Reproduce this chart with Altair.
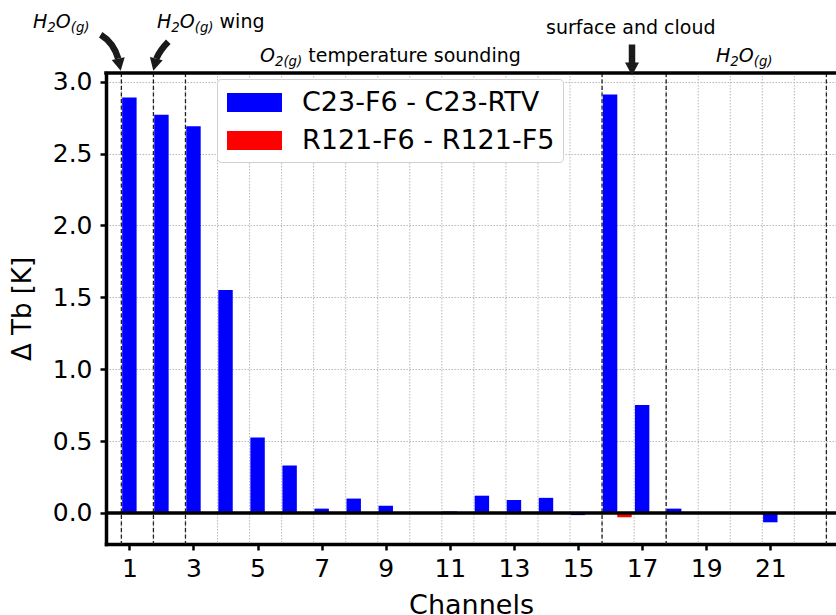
import altair as alt
import pandas as pd

FONT = "DejaVu Sans"

# ---------------- data ----------------
channels = list(range(1, 23))
series_names = ["C23-F6 - C23-RTV", "R121-F6 - R121-F5"]
series_colors = ["#0000ff", "#ff0000"]
c23_diff = [2.89, 2.77, 2.69, 1.55, 0.525, 0.33, 0.03, 0.10, 0.05, 0.0, 0.01,
            0.12, 0.09, 0.105, -0.015, 2.91, 0.75, 0.03, 0.0, 0.0, -0.065, 0.0]
r121_diff = [0.0, 0.005, 0.0, 0.0, 0.0, 0.0, 0.0, 0.0, 0.0, 0.0, 0.0,
             0.0, 0.0, 0.0, 0.0, -0.03, 0.0, 0.0, 0.0, 0.0, 0.0, 0.0]
x_tick_values = channels[::2]
y_tick_values = [0.0, 0.5, 1.0, 1.5, 2.0, 2.5, 3.0]
group_last_channels = [0, 1, 2, 15, 17, 22]   # dashed separators follow these channels
x_label = "Channels"
y_label = "Δ Tb [K]"

# ---------------- tables ----------------
rows = []
for slot, (name, vals) in enumerate(zip(series_names, [c23_diff, r121_diff])):
    for c, v in zip(channels, vals):
        rows.append({"channel": c, "series": name, "value": v, "slot": slot})
bars_df = pd.DataFrame(rows)
grid_df = pd.DataFrame({"pos": [c - 0.25 for c in channels] + [channels[-1] + 0.75]})
sep_df = pd.DataFrame({"pos": [g + 0.75 for g in group_last_channels]})
one = pd.DataFrame({"k": [0]})

W, H = 730, 471
xscale = alt.Scale(domain=[0.27, 23.05], nice=False, zero=False)
yscale = alt.Scale(domain=[-0.216, 3.06], nice=False, zero=False)

xaxis = alt.Axis(values=x_tick_values, format="d", labelFontSize=25, labelFont=FONT,
                 labelColor="black", tickSize=6, tickWidth=2.5, tickColor="black",
                 domainWidth=3.5, domainColor="black", domainCap="square", grid=False,
                 title=x_label, titleFontSize=27, titleFontWeight="normal", titleFont=FONT,
                 titleColor="black", labelPadding=6, titleY=69, titleBaseline="alphabetic",
                 labelFlush=False, labelOverlap=False)
yaxis = alt.Axis(values=y_tick_values, format=".1f", labelFontSize=25, labelFont=FONT,
                 labelColor="black", tickSize=6, tickWidth=2.5, tickColor="black",
                 domainWidth=3.5, domainColor="black", domainCap="square",
                 grid=True, gridDash=[1.5, 1.5], gridColor="#b0b0b0", gridWidth=0.9,
                 title=y_label, titleFontSize=26, titleFontWeight="normal", titleFont=FONT,
                 titleColor="black", titleX=-84, titleY=H / 2, titleAngle=-90,
                 titleBaseline="middle", titleAlign="center", labelPadding=8,
                 labelFlush=False, labelOverlap=False)

grid = alt.Chart(grid_df).mark_rule(strokeDash=[1.5, 1.5], color="#b0b0b0", strokeWidth=0.9).encode(
    x=alt.X("pos:Q", scale=xscale, axis=xaxis))

seps = alt.Chart(sep_df).mark_rule(strokeDash=[4, 2.5], color="#222222", strokeWidth=1.3).encode(
    x=alt.X("pos:Q", scale=xscale, axis=xaxis))

bars = alt.Chart(bars_df).transform_calculate(
    x0="datum.channel - 0.225 + 0.45 * datum.slot",
    x1="datum.channel + 0.225 + 0.45 * datum.slot",
).mark_rect().encode(
    x=alt.X("x0:Q", scale=xscale, axis=xaxis),
    x2="x1:Q",
    y=alt.Y("value:Q", scale=yscale, axis=yaxis),
    y2=alt.datum(0),
    color=alt.Color("series:N", scale=alt.Scale(domain=series_names, range=series_colors),
                    legend=alt.Legend(title=None, orient="none", legendX=111, legendY=6,
                                      symbolType="M-1.833,-0.633H1.833V0.633H-1.833Z",
                                      symbolSize=900, symbolOffset=14,
                                      symbolStrokeWidth=0, symbolOpacity=1,
                                      labelFontSize=27, labelFont=FONT, labelColor="black",
                                      padding=8.5, fillColor="white", strokeColor="#d0d0d0",
                                      cornerRadius=4, labelOffset=32.5, rowPadding=10,
                                      labelLimit=400)),
)

zero_line = alt.Chart(one).mark_rule(color="black", strokeWidth=3.5).encode(
    y=alt.Y(datum=0, scale=yscale, axis=yaxis), x=alt.value(0), x2=alt.value(W))
top_spine = alt.Chart(one).mark_rule(color="black", strokeWidth=3.5, strokeCap="square").encode(
    y=alt.value(0), x=alt.value(0), x2=alt.value(W))

# ---------------- annotations ----------------
CW = {"H": 0.752, "O": 0.787, "2": 0.636, "(": 0.39, ")": 0.39, "g": 0.635, " ": 0.318}
FS, SUB, SUBDY = 19, 13.3, 4


def width(t, size):
    return sum(CW.get(ch, 0.6) for ch in t) * size


def rich(parts, x0, y0):
    layers = []
    x = x0
    for text, sub, italic in parts:
        size = SUB if sub else FS
        lead = len(text) - len(text.lstrip(" "))
        x += lead * CW[" "] * size
        body = text.lstrip(" ")
        layers.append(alt.Chart(one).mark_text(
            text=body, fontSize=size, font=FONT, fontStyle="italic" if italic else "normal",
            align="left", baseline="alphabetic", color="black").encode(
            x=alt.value(x), y=alt.value(y0 + (SUBDY if sub else 0))))
        x += width(body, size)
    return layers


h2o = [("H", False, True), ("2", True, True), ("O", False, True), ("(g)", True, True)]
ann = []
ann += rich(h2o, -73, -45)
ann += rich(h2o + [(" wing", False, False)], 51, -45)
ann += rich([("O", False, True), ("2(g)", True, True), (" temperature sounding", False, False)], 154, -11)
ann += rich([("surface and cloud", False, False)], 440, -39.5)
ann += rich(h2o, 610, -11)


def arrow(tip_x, tip_y, shaft, head, sw=6.5):
    s = alt.Chart(one).mark_point(shape=shaft, size=4, filled=False, strokeWidth=sw,
                                  color="#1a1a1a", opacity=1).encode(
        x=alt.value(tip_x), y=alt.value(tip_y))
    h = alt.Chart(one).mark_point(shape=head, size=4, filled=True, color="#1a1a1a",
                                  opacity=1, strokeWidth=1).encode(
        x=alt.value(tip_x), y=alt.value(tip_y))
    return [s, h]


arrows = []
arrows += arrow(14.7, -2.3, "M-20,-36Q-7,-28 -2.5,-12", "M-9,-10.6L4,-13.4L0,0Z")
arrows += arrow(47.3, -2.3, "M15,-29Q7,-21 3,-12", "M-3.4,-13.6L9.4,-10.4L0,0Z")
arrows += arrow(526, 2.5, "M0,-31L0,-12", "M-7,-13L7,-13L0,0Z")

chart = alt.layer(grid, seps, bars, zero_line, top_spine, *ann, *arrows).properties(
    width=W, height=H, autosize="none",
    padding={"left": 106, "top": 73, "right": 0, "bottom": 71},
    background="white",
).configure_view(stroke=None)

chart.save("out.html", embed_options={"renderer": "svg", "actions": False})
